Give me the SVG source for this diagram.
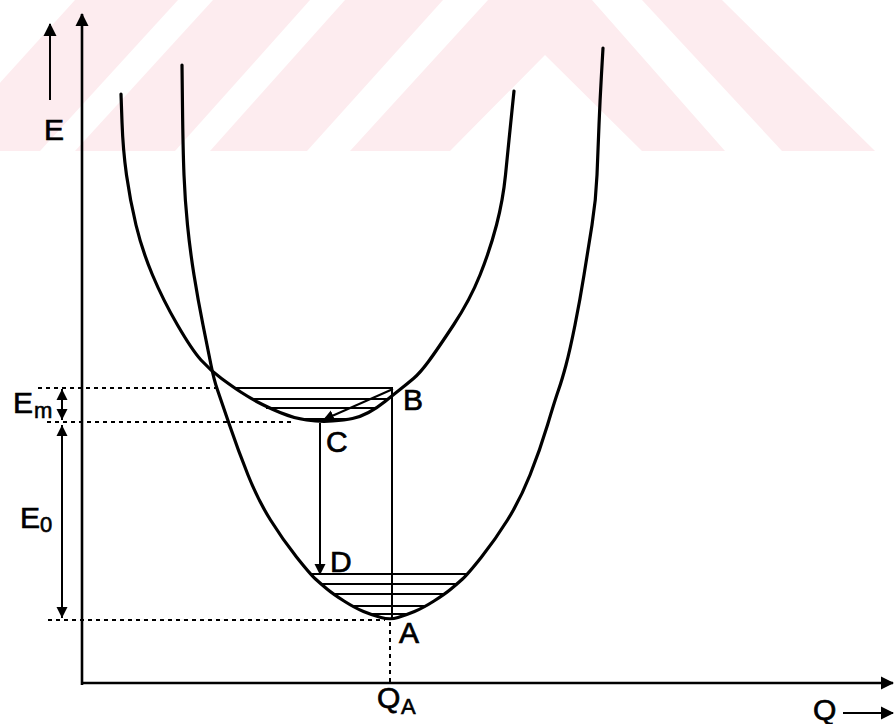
<svg xmlns="http://www.w3.org/2000/svg" width="895" height="724" viewBox="0 0 895 724">
<style>
.wm{fill:#fdecef;stroke:none}
.curve{fill:none;stroke:#000;stroke-width:3.2;stroke-linejoin:round;stroke-linecap:round}
.axis{fill:none;stroke:#000;stroke-width:2.6}
.lvl{fill:none;stroke:#000;stroke-width:1.8}
.dash{fill:none;stroke:#000;stroke-width:2;stroke-dasharray:4 4}
.arr{fill:none;stroke:#000;stroke-width:2}
.lbl{font-family:"Liberation Sans",Arial,sans-serif;font-size:30px;fill:#000;stroke:#000;stroke-width:0.7}
.sub{font-family:"Liberation Sans",Arial,sans-serif;font-size:22px;fill:#000;stroke:#000;stroke-width:0.6}
</style>
<defs>
<marker id="ah" markerUnits="userSpaceOnUse" markerWidth="14" markerHeight="14" refX="12" refY="7" orient="auto-start-reverse" viewBox="0 0 14 14">
<path d="M0,0.5 L13,7 L0,13.5 z" fill="#000"/>
</marker>
<marker id="ahs" markerUnits="userSpaceOnUse" markerWidth="12" markerHeight="12" refX="11" refY="6" orient="auto-start-reverse" viewBox="0 0 12 12">
<path d="M0,0.5 L11,6 L0,11.5 z" fill="#000"/>
</marker>
</defs>
<rect width="895" height="724" fill="#fff"/>
<g id="watermark">
<polygon class="wm" points="75,0 178,0 40,151 -62,151"/>
<polygon class="wm" points="213,0 310,0 175,151 75,151"/>
<polygon class="wm" points="345,0 443,0 307,151 210,151"/>
<polygon class="wm" points="488,0 592,0 725,151 642,151 545,55 450,151 350,151"/>
<polygon class="wm" points="642,0 722,0 875,151 782,151"/>
</g>
<g id="axes">
<line class="axis" x1="82" y1="685" x2="82" y2="14" marker-end="url(#ah)"/>
<line class="axis" x1="81" y1="683" x2="893" y2="683" marker-end="url(#ah)"/>
<line class="arr" x1="50" y1="100" x2="50" y2="24" marker-end="url(#ah)"/>
<line class="arr" x1="843" y1="713" x2="893" y2="713" marker-end="url(#ah)"/>
</g>
<g id="ground-curve">
<path class="curve" d="M182,65 L182.5,107.5 Q183,150 184,175 Q185,200 187.5,225 Q190,250 194,275 Q198,300 203,325 Q208,350 211,365 Q214,380 217.5,390 Q221,400 229.5,425 Q238,450 248,475 Q258,500 270.5,520 Q283,540 296.5,557 Q310,574 315.5,579 Q321,584 327,589 Q333,594 344,601 Q355,608 363.5,611.5 Q372,615 381,617.5 Q390,620 398,617.5 Q406,615 414.5,611.5 Q423,608 434,601 Q445,594 451,589 Q457,584 462.5,579 Q468,574 481.5,557 Q495,540 507.5,520 Q520,500 530,475 Q540,450 547.5,425 Q555,400 558.5,390 Q562,380 566,365 Q570,350 575,325 Q580,300 584,275 Q588,250 592,225 Q596,200 597,175 Q598,150 599,125 Q600,100 601.5,74 L603,48"/>
</g>
<g id="excited-curve">
<path class="curve" d="M121,94 L122,122 Q123,150 126.5,175 Q130,200 136,225 Q142,250 152.5,275 Q163,300 177.5,325 Q192,350 201,360 Q210,370 221.5,378.5 Q233,387 241.5,392.5 Q250,398 258.5,402.5 Q267,407 280,412.5 Q293,418 306.5,420 Q320,422 332.5,421 Q345,420 352.5,418.5 Q360,417 368.5,412.5 Q377,408 385,401.5 Q393,395 400,389.5 Q407,384 413.5,378.5 Q420,373 428.5,361.5 Q437,350 453.5,325 Q470,300 480,275 Q490,250 496.5,225 Q503,200 505.5,175 Q508,150 509.5,135 Q511,120 512.5,105.5 L514,91"/>
</g>
<g id="levels">
<line class="lvl" x1="235" y1="388" x2="393" y2="388"/>
<line class="lvl" x1="252" y1="399" x2="388" y2="399"/>
<line class="lvl" x1="266" y1="408" x2="376" y2="408"/>
<line class="lvl" x1="298" y1="419" x2="350" y2="419"/>
<line class="lvl" x1="310" y1="574" x2="468" y2="574"/>
<line class="lvl" x1="321" y1="584" x2="457" y2="584"/>
<line class="lvl" x1="333" y1="594" x2="445" y2="594"/>
<line class="lvl" x1="352" y1="606" x2="427" y2="606"/>
<line class="lvl" x1="370" y1="614" x2="410" y2="614"/>
</g>
<g id="connectors">
<line class="dash" x1="38" y1="388" x2="218" y2="388"/>
<line class="dash" x1="47" y1="422" x2="292" y2="422"/>
<line class="dash" x1="48" y1="620" x2="385" y2="620"/>
<line class="dash" x1="390" y1="622" x2="390" y2="683"/>
<line class="arr" x1="392" y1="388" x2="392" y2="618"/>
<line class="arr" x1="393" y1="389" x2="323" y2="420" marker-end="url(#ahs)"/>
<line class="arr" x1="320" y1="423" x2="320" y2="575" marker-end="url(#ahs)"/>
<line class="arr" x1="62" y1="389" x2="62" y2="420" marker-start="url(#ahs)" marker-end="url(#ahs)"/>
<line class="arr" x1="62" y1="425" x2="62" y2="618" marker-start="url(#ahs)" marker-end="url(#ahs)"/>
</g>
<g id="labels">
<text class="lbl" x="44" y="140">E</text>
<text class="lbl" x="13" y="413">E</text>
<text class="sub" x="34" y="418">m</text>
<text class="lbl" x="20" y="528">E</text>
<text class="sub" x="40" y="532">0</text>
<text class="lbl" x="403" y="410">B</text>
<text class="lbl" x="326" y="452">C</text>
<text class="lbl" x="330" y="572">D</text>
<text class="lbl" x="399" y="643">A</text>
<text class="lbl" x="377" y="708">Q</text>
<text class="sub" x="401" y="714">A</text>
<text class="lbl" x="813" y="720">Q</text>
</g>
</svg>
